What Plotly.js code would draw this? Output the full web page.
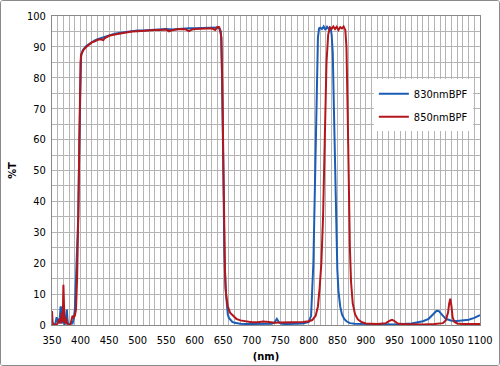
<!DOCTYPE html>
<html>
<head>
<meta charset="utf-8">
<script src="https://cdn.plot.ly/plotly-3.0.1.min.js"></script>
<style>
html,body{margin:0;padding:0;background:#fff;}
#chart{width:500px;height:366px;box-sizing:border-box;border:1px solid #8a8a8a;border-radius:3px;overflow:hidden;}
</style>
</head>
<body>
<div id="chart"></div>
<script>
// 830nm band-pass filter
const wl830 = [350,352,356,358,360,362,363,364,365,366,367,368,370,371,372,374,375,376,377,378,380,383,386,388,390,392,394,396,398,400,401,403,405,410,415,420,425,430,435,440,445,450,460,470,480,490,500,510,520,530,540,550,560,570,580,590,600,610,620,630,640,644,646,648,650,652,654,656,658,660,663,666,670,675,680,690,700,720,735,740,744,748,752,760,780,790,800,804,808,811,814,816,818,820,823,826,829,832,835,838,840,842,844,846,848,850,852,855,858,862,866,872,880,900,920,950,980,1000,1010,1018,1024,1028,1032,1036,1040,1045,1050,1060,1070,1080,1090,1100];
const t830 = [0,0,0.5,2.5,1,2,0.5,3,6,5.5,1,0.5,3.5,1,0,2,5,5,2,0.5,0,0.5,0.5,2,5,15,20,35,60,82,87,88.5,89.2,90.3,91,91.6,92.1,92.5,92.8,93.2,93.5,93.8,94.3,94.6,94.9,95.1,95.3,95.3,95.4,95.6,95.7,95.8,95.6,95.8,95.9,96,96,96.1,96,96.1,96.3,95.8,95,80,50,25,12,6,3.5,2.3,1.5,1,0.7,0.5,0.4,0.3,0.3,0.3,0.4,0.8,2,0.8,0.4,0.3,0.4,0.5,1,3,20,50,80,93,96,96.2,95.8,96.6,95.5,96.5,95.8,96.4,94,88,70,48,30,18,11,6,3.5,2,1.2,0.6,0.4,0.3,0.2,0.2,0.5,1.2,2,3.5,4.6,4.5,3.8,2.8,2,1.6,1.4,1.3,1.4,1.7,2.3,3.2];
// 850nm band-pass filter
const wl850 = [350,351,353,356,360,363,365,367,368,369,370,371,372,374,376,378,382,384,386,388,390,392,394,396,398,400,401,403,405,410,415,420,425,430,435,440,442,445,450,460,470,480,490,500,510,520,530,540,550,555,560,570,580,585,590,595,600,610,620,630,636,640,643,645,647,649,651,653,655,658,662,667,673,680,690,700,710,720,730,740,750,760,770,780,790,800,806,812,816,819,822,825,828,831,834,837,840,843,846,849,852,855,858,861,864,866,868,870,872,874,877,881,886,892,900,920,935,942,946,950,956,965,980,1000,1020,1035,1040,1044,1046,1048,1050,1052,1055,1060,1070,1100];
const t850 = [4.5,1,0,0,0.5,2,0.5,4,1,3,13,6,0.5,2.5,0.5,0,0,1.5,3,2.5,3,5,15,35,65,85,87.5,88.5,89,90,90.8,91.5,91.8,92.3,92.5,92.2,92.8,93.2,93.6,94,94.4,94.7,95,95.1,95.3,95.4,95.5,95.5,95.6,95,95.4,95.7,95.8,95.6,95.1,95.6,95.8,95.9,96,96,95.5,96.5,96.4,95,93,70,35,18,10,6,4,3,2,1.5,1.1,0.9,0.9,1.1,1,0.7,0.8,0.8,0.8,0.9,1,1.2,1.6,3,6,12,20,35,60,85,94,96.3,95.8,96.6,95.8,96.5,95.5,96.4,96,96.6,95.5,90,70,45,25,14,7,3.5,1.8,1,0.5,0.3,0.6,1.4,1.7,1.3,0.5,0.3,0.2,0.2,0.3,0.6,1.5,4,7,8.5,6,2.5,1,0.5,0.3,0.3];

const names = ['830nmBPF','850nmBPF'];
const xTicks = [350,400,450,500,550,600,650,700,750,800,850,900,950,1000,1050,1100];
const yTicks = [0,10,20,30,40,50,60,70,80,90,100];

const FONT = '"Liberation Sans Narrow","DejaVu Sans Condensed",Arial,sans-serif';
const GRID = '#b4b4b4';

const traces = [
  {x: wl830, y: t830, name: names[0], type:'scatter', mode:'lines', legendgroup:'a',
   line:{color:'#1b5cb4', width:2}},
  {x: wl850, y: t850, name: names[1], type:'scatter', mode:'lines', legendgroup:'b',
   line:{color:'#b3161b', width:2}}
];

const layout = {
  width: 498, height: 364,
  margin: {l: 51, r: 19, t: 15, b: 40},
  paper_bgcolor: '#fff', plot_bgcolor: '#fff',
  font: {family: FONT, size: 11, color: '#000'},
  showlegend: true,
  legend: {x: 0.752, y: 0.795, xanchor:'left', yanchor:'top', bgcolor:'#fff', borderwidth:0,
           font:{family: FONT, size: 11, color:'#000'}, tracegroupgap: 4},
  xaxis: {
    range: [350, 1100], tickvals: xTicks, ticktext: xTicks.map(String),
    showgrid: true, gridcolor: GRID, gridwidth: 1,
    minor: {dtick: 10, tick0: 350, showgrid: true, gridcolor: GRID, gridwidth: 1},
    showline: true, linecolor: '#888', linewidth: 1, mirror: true,
    zeroline: false, ticks: '', ticklabelstandoff: 5, tickfont: {family: FONT, size: 11},
    title: {text: '<b>(nm)</b>', font: {family: FONT, size: 11}, standoff: 6}
  },
  yaxis: {
    range: [0, 100], tickvals: yTicks, ticktext: yTicks.map(String),
    showgrid: true, gridcolor: GRID, gridwidth: 1,
    minor: {dtick: 5, tick0: 0, showgrid: true, gridcolor: GRID, gridwidth: 1},
    showline: true, linecolor: '#888', linewidth: 1, mirror: true,
    zeroline: false, ticks: '', ticklabelstandoff: 3, tickfont: {family: FONT, size: 11},
    title: {text: '<b>%T</b>', font: {family: FONT, size: 11}, standoff: 8}
  }
};

Plotly.newPlot('chart', traces, layout, {displayModeBar: false, staticPlot: true});
</script>
</body>
</html>
